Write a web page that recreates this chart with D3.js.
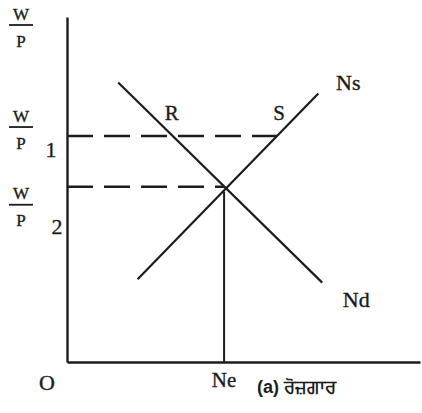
<!DOCTYPE html>
<html>
<head>
<meta charset="utf-8">
<script src="https://cdn.jsdelivr.net/npm/d3@7"></script>
<style>
  html, body { margin: 0; padding: 0; background: #fff; }
  svg { display: block; }
</style>
</head>
<body>
<div id="chart"></div>
<script>
// 需求 / 供给 曲线 (就业量 N, 实际工资 W/P), 单位: 0-100
const demandLine = [[14.5, 81], [72.3, 23]];   // Nd
const supplyLine = [[20, 24], [71.2, 77.8]];   // Ns
const wageLevels = [65.5, 50.8];               // W/P 1, W/P 2
const wageTags = ['1', '2'];
const equilibriumN = 44.5;                     // Ne
const lineLabels = ['Nd', 'Ns'];
const pointLabels = ['R', 'S'];
const axisTitle = '(a) ਰੋਜ਼ਗਾਰ';

const width = 422, height = 413;
const margin = { top: 17, right: 2, bottom: 51, left: 67 };
const ink = '#1c1c1c';
const serif = '"Liberation Serif", "DejaVu Serif", serif';

const x = d3.scaleLinear().domain([0, 100]).range([margin.left, width - margin.right]);
const y = d3.scaleLinear().domain([0, 100]).range([height - margin.bottom, margin.top]);

// 直线上按 y 求 x
const xAtY = (line, v) => {
  const [[x0, y0], [x1, y1]] = line;
  return x0 + (v - y0) * (x1 - x0) / (y1 - y0);
};
const yAtX = (line, u) => {
  const [[x0, y0], [x1, y1]] = line;
  return y0 + (u - x0) * (y1 - y0) / (x1 - x0);
};

const svg = d3.select('#chart').append('svg')
  .attr('width', width)
  .attr('height', height)
  .attr('viewBox', [0, 0, width, height]);

// 坐标轴 (无刻度)
svg.append('g')
  .attr('transform', `translate(0, ${y(0)})`)
  .call(d3.axisBottom(x).tickValues([]).tickSizeOuter(0))
  .call(g => g.select('.domain').attr('stroke', ink).attr('stroke-width', 2.4));

svg.append('g')
  .attr('transform', `translate(${x(0)}, 0)`)
  .call(d3.axisLeft(y).tickValues([]).tickSizeOuter(0))
  .call(g => g.select('.domain').attr('stroke', ink).attr('stroke-width', 2.4));

// 虚线: W/P1 到 S, W/P2 到 均衡点
const dashEnds = [xAtY(supplyLine, wageLevels[0]), equilibriumN];
svg.append('g').selectAll('line')
  .data(wageLevels)
  .join('line')
  .attr('x1', x(0))
  .attr('x2', (d, i) => x(dashEnds[i]))
  .attr('y1', d => y(d))
  .attr('y2', d => y(d))
  .attr('stroke', ink)
  .attr('stroke-width', 2.6)
  .attr('stroke-dasharray', '26,11');

// Nd, Ns
const line = d3.line().x(d => x(d[0])).y(d => y(d[1]));
svg.append('g').selectAll('path')
  .data([demandLine, supplyLine])
  .join('path')
  .attr('d', line)
  .attr('fill', 'none')
  .attr('stroke', ink)
  .attr('stroke-width', 2.2);

// Ne 垂线
svg.append('line')
  .attr('x1', x(equilibriumN)).attr('x2', x(equilibriumN))
  .attr('y1', y(yAtX(demandLine, equilibriumN)) + 5)
  .attr('y2', y(0))
  .attr('stroke', ink)
  .attr('stroke-width', 2);

const text = (sel, size) => sel
  .attr('font-family', serif)
  .attr('font-size', size)
  .attr('fill', ink)
  .attr('stroke', ink)
  .attr('stroke-width', 0.35)
  .attr('text-anchor', 'middle')
  .attr('dominant-baseline', 'central');

// 曲线标签
svg.append('text').call(text, 22)
  .attr('x', x(demandLine[1][0]) + 34).attr('y', y(demandLine[1][1]) + 17)
  .text(lineLabels[0]);
svg.append('text').call(text, 22)
  .attr('x', x(supplyLine[1][0]) + 30).attr('y', y(supplyLine[1][1]) - 11)
  .text(lineLabels[1]);

// R, S
const rsX = [xAtY(demandLine, wageLevels[0]), xAtY(supplyLine, wageLevels[0])];
svg.append('g').selectAll('text')
  .data(pointLabels)
  .join('text')
  .call(text, 21)
  .attr('x', (d, i) => x(rsX[i]) + (i ? 2 : -1))
  .attr('y', y(wageLevels[0]) - 23)
  .text(d => d);

// 纵轴 W/P 分数标签
const fraction = (cy, tag, tagX) => {
  const g = svg.append('g').attr('transform', `translate(21, ${cy})`);
  g.append('text').call(text, 17).attr('y', -11).text('W');
  g.append('line').attr('x1', -12).attr('x2', 12)
    .attr('stroke', ink).attr('stroke-width', 1.8);
  g.append('text').call(text, 17).attr('y', 16).text('P');
  if (tag) g.append('text').call(text, 22).attr('x', tagX - 21).attr('y', 22).text(tag);
};
fraction(25, null);
fraction(y(wageLevels[0]) - 9, wageTags[0], 51);
fraction(y(wageLevels[1]) + 18, wageTags[1], 57);

// 原点, Ne, 横轴标题
svg.append('text').call(text, 22).attr('x', 47).attr('y', 382).text('O');
svg.append('text').call(text, 21).attr('x', x(equilibriumN)).attr('y', 380).text('Ne');
svg.append('text')
  .attr('x', 257).attr('y', 387)
  .attr('dominant-baseline', 'central')
  .attr('font-family', '"Liberation Sans", "Noto Sans", sans-serif')
  .attr('font-weight', 'bold')
  .attr('font-size', 18)
  .attr('fill', ink)
  .text(axisTitle);
</script>
</body>
</html>
